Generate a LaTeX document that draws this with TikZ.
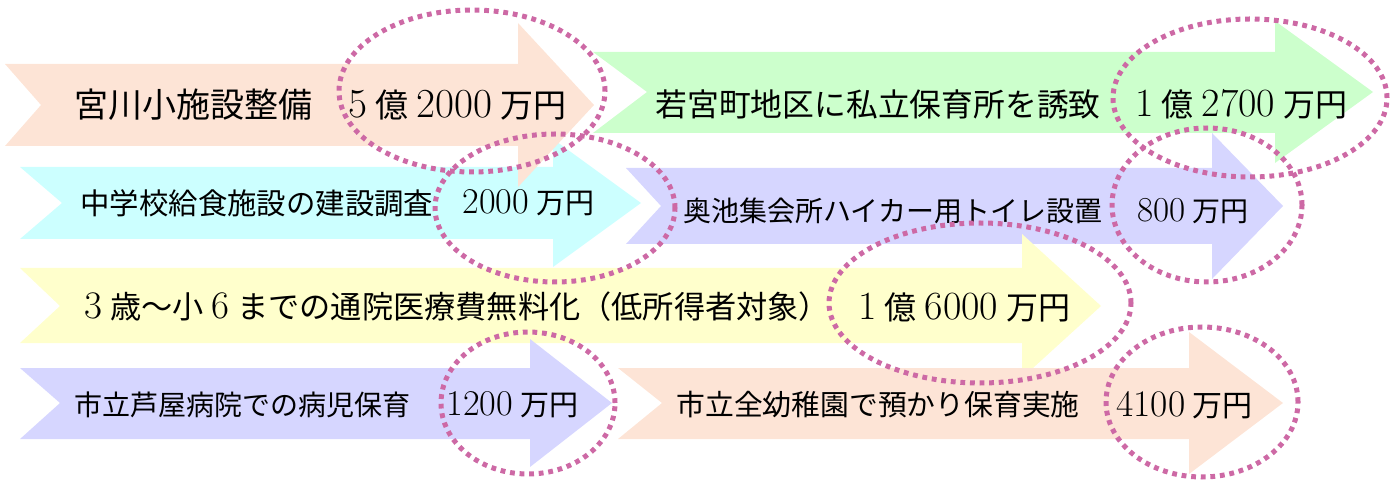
\documentclass[tikz,border=0pt]{standalone}
\usepackage{fontspec}
\newfontfamily\jp{Noto Sans CJK JP}
\newfontfamily\digits[Scale=1.25]{Latin Modern Roman}
\definecolor{cpeach}{HTML}{FDE4D6}
\definecolor{cgreen}{HTML}{CCFFCC}
\definecolor{ccyan}{HTML}{CCFFFF}
\definecolor{cpurple}{HTML}{D6D6FF}
\definecolor{cyellow}{HTML}{FFFFCC}
\definecolor{cring}{RGB}{205,105,165}
\newcommand\num[1]{{\digits #1}}
\newcommand\gap{\hspace{0.25em}}
% args: colour, left x, notch x, body top, body bottom, centre y, head base x, head half height, tip x
\newcommand\flowarrow[9]{\fill[#1] (#2,#4) -- (#7,#4) -- (#7,{#6-#8}) -- (#9,#6) -- (#7,{#6+#8}) -- (#7,#5) -- (#2,#5) -- (#3,#6) -- cycle;}
\tikzset{
  lbl/.style={anchor=west, inner sep=0pt, text=black, font=\jp},
  ring/.style={draw=cring, line width=2.5pt, dash pattern=on 2.4pt off 2.4pt},
}
\begin{document}
\begin{tikzpicture}[x=0.5pt, y=-0.5pt]
\useasboundingbox (0,0) rectangle (1390,480);
% row 2 first (under row 1)
\flowarrow{ccyan}{20}{62}{167}{239}{203}{553}{64}{641}
\flowarrow{cpurple}{626}{661}{168}{244}{206}{1212}{73}{1283}
% row 1
\flowarrow{cpeach}{5}{41}{64}{146}{105}{518}{82}{594}
\flowarrow{cgreen}{593}{647}{52}{133}{92}{1275}{71}{1373}
% row 3
\flowarrow{cyellow}{20}{60}{268}{343}{306}{1022}{72}{1101}
% row 4
\flowarrow{cpurple}{20}{60}{368}{439}{403}{530}{64}{612}
\flowarrow{cpeach}{618}{662}{368}{439}{403}{1189}{71}{1283}

% texts
\node[lbl, font=\jp\fontsize{17pt}{20pt}\selectfont] (t1) at (74,105) {宮川小施設整備};
\node[lbl, font=\jp\fontsize{16.5pt}{20pt}\selectfont] (a1) at (348,105) {\num{5}\gap 億\gap\num{2000}\gap 万円};
\node[lbl, font=\jp\fontsize{15.9pt}{19pt}\selectfont] (t2) at (655,104) {若宮町地区に私立保育所を誘致};
\node[lbl, font=\jp\fontsize{16pt}{19pt}\selectfont] (a2) at (1135,104) {\num{1}\gap 億\gap\num{2700}\gap 万円};
\node[lbl, font=\jp\fontsize{14.7pt}{18pt}\selectfont] (t3) at (80,203) {中学校給食施設の建設調査};
\node[lbl, font=\jp\fontsize{14.5pt}{18pt}\selectfont] (a3) at (462,203) {\num{2000}\gap 万円};
\node[lbl, font=\jp\fontsize{14pt}{17pt}\selectfont] (t4) at (683,211) {奥池集会所ハイカー用トイレ設置};
\node[lbl, font=\jp\fontsize{14pt}{17pt}\selectfont] (a4) at (1137,211) {\num{800}\gap 万円};
\node[lbl, font=\jp\fontsize{15.6pt}{18pt}\selectfont] (t5) at (84,307) {\num{3}\gap 歳〜小\gap\num{6}\gap までの通院医療費無料化（低所得者対象）};
\node[lbl, font=\jp\fontsize{16pt}{19pt}\selectfont] (a5) at (858,307) {\num{1}\gap 億\gap\num{6000}\gap 万円};
\node[lbl, font=\jp\fontsize{14pt}{17pt}\selectfont] (t6) at (74,405) {市立芦屋病院での病児保育};
\node[lbl, font=\jp\fontsize{14.5pt}{17pt}\selectfont] (a6) at (446,405) {\num{1200}\gap 万円};
\node[lbl, font=\jp\fontsize{14.4pt}{17pt}\selectfont] (t7) at (676,405) {市立全幼稚園で預かり保育実施};
\node[lbl, font=\jp\fontsize{15pt}{18pt}\selectfont] (a7) at (1116,405) {\num{4100}\gap 万円};

% dotted rings
\draw[ring] (472,91) ellipse [x radius=66.5pt, y radius=40.5pt];
\draw[ring] (555,208) ellipse [x radius=60pt, y radius=37pt];
\draw[ring] (1250,98) ellipse [x radius=68.5pt, y radius=39.5pt];
\draw[ring] (1207,205) ellipse [x radius=47.5pt, y radius=38.5pt];
\draw[ring] (980,303) ellipse [x radius=75.5pt, y radius=40pt];
\draw[ring] (528,403) ellipse [x radius=43.5pt, y radius=35.5pt];
\draw[ring] (1202,402) ellipse [x radius=48pt, y radius=37.5pt];
\end{tikzpicture}
\end{document}
